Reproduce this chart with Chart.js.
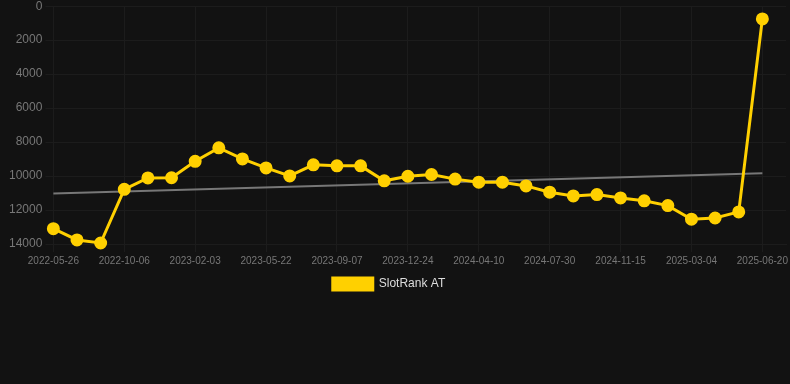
<!DOCTYPE html>
<html>
<head>
<meta charset="utf-8">
<script src="https://cdn.jsdelivr.net/npm/chart.js@4/dist/chart.umd.min.js"></script>
<style>
  html, body { margin: 0; padding: 0; background: #121212; overflow: hidden; }
  #wrap { width: 794px; height: 306px; position: relative; top: -4px; }
</style>
</head>
<body>
<div id="wrap"><canvas id="c"></canvas></div>
<script>
const categories = [
  "2022-05-26","2022-07-10","2022-08-23","2022-10-06","2022-11-15","2022-12-25",
  "2023-02-03","2023-03-09","2023-04-15","2023-05-22","2023-06-27","2023-08-02",
  "2023-09-07","2023-10-13","2023-11-18","2023-12-24","2024-01-29","2024-03-05",
  "2024-04-10","2024-05-17","2024-06-23","2024-07-30","2024-09-04","2024-10-10",
  "2024-11-15","2024-12-21","2025-01-26","2025-03-04","2025-04-09","2025-05-15",
  "2025-06-20","2025-07-26"
];
const slotRankAT = [
  13100, 13760, 13940, 10780, 10110, 10100,
  9130, 8340, 8990, 9520, 9990, 9340,
  9400, 9400, 10280, 10010, 9910, 10180,
  10360, 10360, 10580, 10950, 11170, 11090,
  11290, 11460, 11740, 12540, 12470, 12110,
  750, null
];
const trendStart = 11030;
const trendEnd = 9840;
const trend = categories.map((c, i) => i === 0 ? trendStart : (i === 30 ? trendEnd : null));
const yTicks = [0, 2000, 4000, 6000, 8000, 10000, 12000, 14000];

const legendShift = {
  id: 'legendShift',
  afterLayout(chart) {
    const l = chart.legend;
    if (!l) return;
    l.left -= 11; l.right -= 11;
    l.top -= 2; l.bottom -= 2;
  }
};

new Chart(document.getElementById('c'), {
  type: 'line',
  data: {
    labels: categories,
    datasets: [
      {
        label: 'SlotRank AT',
        data: slotRankAT,
        borderColor: '#ffd000',
        backgroundColor: '#ffd000',
        borderWidth: 3,
        pointRadius: 5,
        pointHoverRadius: 5,
        pointBackgroundColor: '#ffd000',
        pointBorderColor: '#ffd000',
        tension: 0,
        clip: false,
        order: 1
      },
      {
        label: 'trend',
        data: trend,
        borderColor: '#777777',
        borderWidth: 2,
        pointRadius: 0,
        spanGaps: true,
        tension: 0,
        order: 2
      }
    ]
  },
  plugins: [legendShift],
  options: {
    responsive: true,
    maintainAspectRatio: false,
    animation: false,
    layout: { padding: { left: 6, right: 0 } },
    plugins: {
      legend: {
        position: 'bottom',
        labels: {
          color: '#dddddd',
          font: { family: 'Liberation Sans, Arial, sans-serif', size: 12 },
          boxWidth: 40,
          boxHeight: 12,
          filter: (item) => item.datasetIndex === 0
        }
      },
      tooltip: { enabled: false }
    },
    scales: {
      x: {
        grid: { color: '#1c1c1c', drawTicks: true, tickLength: 8 },
        border: { color: '#1c1c1c' },
        ticks: {
          color: '#777777',
          font: { family: 'Liberation Sans, Arial, sans-serif', size: 10 },
          maxRotation: 0,
          autoSkip: true,
          autoSkipPadding: 20
        }
      },
      y: {
        reverse: true,
        min: 0,
        max: 14000,
        afterBuildTicks: (axis) => { axis.ticks = yTicks.map(v => ({ value: v })); },
        grid: { color: '#1c1c1c' },
        border: { color: '#1c1c1c' },
        ticks: {
          color: '#777777',
          font: { family: 'Liberation Sans, Arial, sans-serif', size: 12 },
          callback: (v) => String(v)
        }
      }
    }
  }
});
</script>
</body>
</html>
